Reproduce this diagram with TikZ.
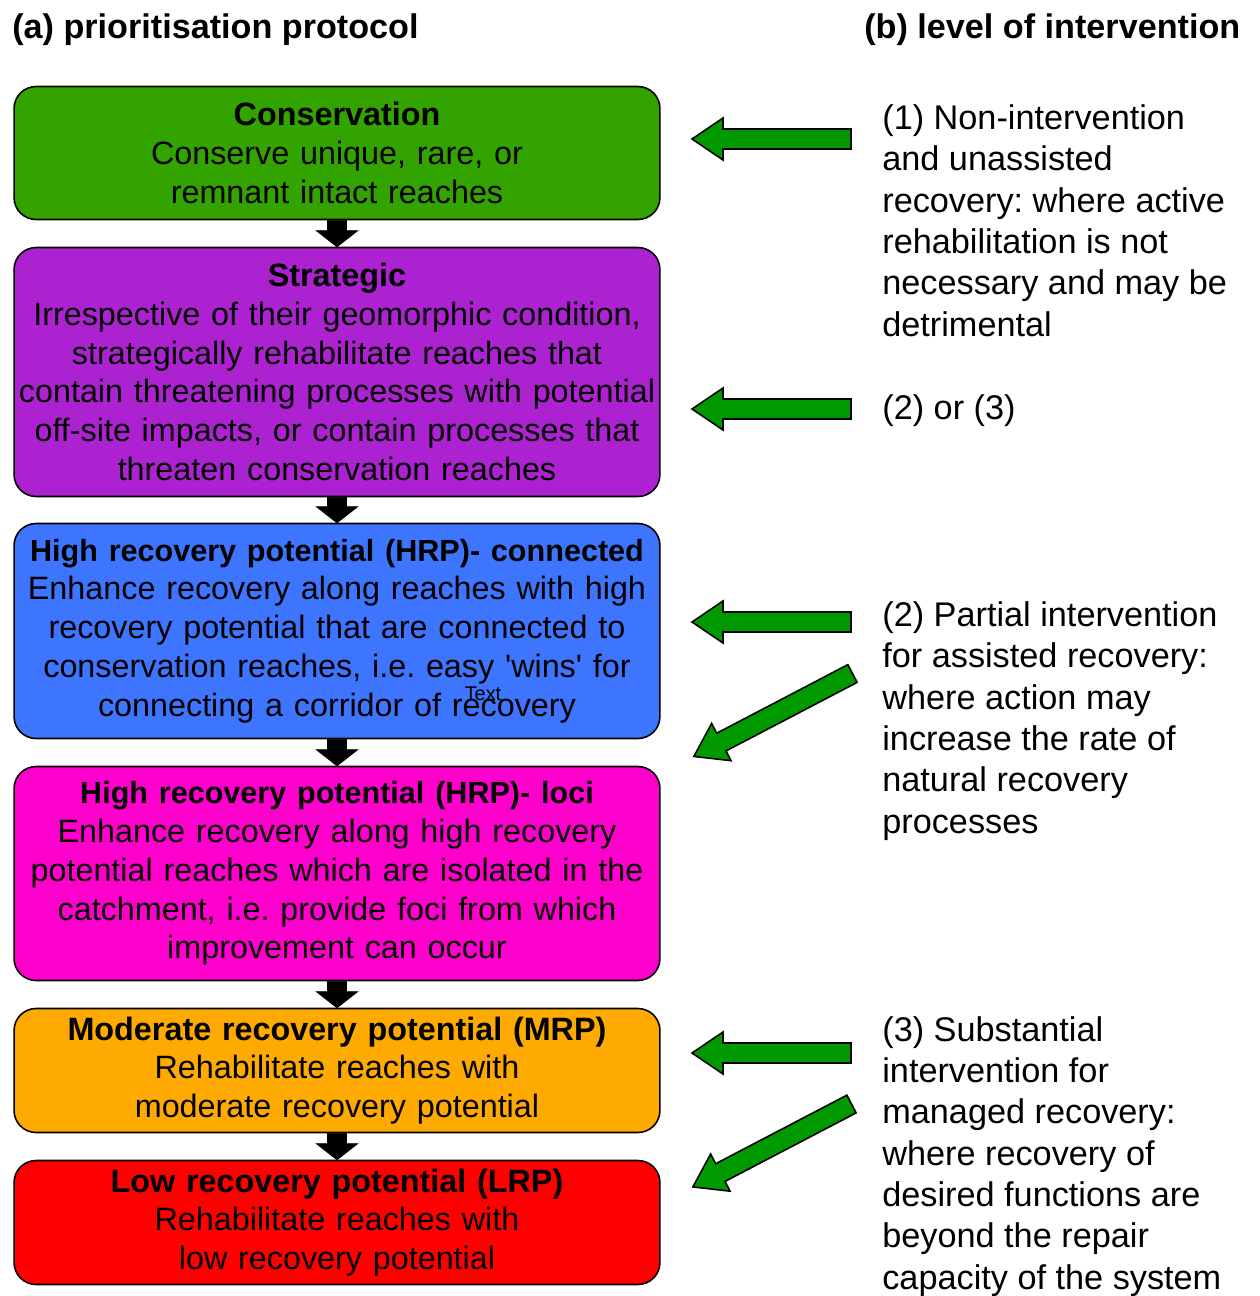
\documentclass[tikz,border=0pt]{standalone}
\usepackage{fontspec}
\setmainfont{Liberation Sans}
\usetikzlibrary{positioning,calc}
\frenchspacing

\definecolor{consgreen}{RGB}{51,163,0}
\definecolor{stratpurple}{RGB}{173,34,208}
\definecolor{hrpblue}{RGB}{61,117,255}
\definecolor{locimagenta}{RGB}{255,0,204}
\definecolor{mrporange}{RGB}{255,170,0}
\definecolor{lrpred}{RGB}{255,0,0}
\definecolor{arrowgreen}{RGB}{0,153,0}

\newcommand{\boxfont}{\fontsize{18.4pt}{22.1pt}\selectfont}
\newcommand{\levelfont}{\fontsize{19.5pt}{23.5pt}\selectfont}
\newcommand{\headfont}{\fontsize{19.45pt}{23pt}\selectfont\bfseries}
\newcommand{\hrptitle}{\fontsize{17.4pt}{22.1pt}\selectfont\bfseries}

% black arrow from one stage to the next
\newcommand{\flowarrow}[2]{%
  \filldraw[black, line width=0.5pt]
    ($(#1.south)+(-9.5,0)$) -- ($(#1.south)+(9.5,0)$)
    -- ($(#2.north)+(9.5,-16)$) -- ($(#2.north)+(20.5,-16)$)
    -- (#2.north)
    -- ($(#2.north)+(-20.5,-16)$) -- ($(#2.north)+(-9.5,-16)$) -- cycle;}

% green block arrow: tail, angle, length
\newcommand{\levelarrow}[3]{%
  \draw[levelarrow, shift={(#1)}, rotate=#2]
    (0,-10) -- (-#3+31,-10) -- (-#3+31,-21) -- (-#3,0)
    -- (-#3+31,21) -- (-#3+31,10) -- (0,10) -- cycle;}

\tikzset{
  stage/.style={draw=black, line width=0.9pt, rounded corners=0.44cm,
    minimum width=12.92cm, text width=12.9cm, align=center,
    inner sep=0pt, font=\boxfont},
  level/.style={anchor=base west, align=left, inner sep=0pt, font=\levelfont},
  levelarrow/.style={draw=black, line width=0.9pt, fill=arrowgreen},
}

\begin{document}
\begin{tikzpicture}[x=0.02cm, y=-0.02cm]

\useasboundingbox (0,0) rectangle (1260,1296);

\node[anchor=base west, inner sep=0pt, font=\headfont] (heada) at (12,38) {(a) prioritisation protocol};
\node[anchor=base west, inner sep=0pt, font=\headfont] (headb) at (864,38) {(b) level of intervention};

% stages
\node[stage, fill=consgreen, minimum height=2.66cm] (cons) at (337,153)
  {\textbf{Conservation}\\ Conserve unique, rare, or\\ remnant intact reaches};
\node[stage, fill=stratpurple, minimum height=4.98cm] (strat) at (337,372)
  {\textbf{Strategic}\\ Irrespective of their geomorphic condition,\\
   strategically rehabilitate reaches that\\
   contain threatening processes with potential\\
   off-site impacts, or contain processes that\\
   threaten conservation reaches};
\node[stage, fill=hrpblue, minimum height=4.3cm] (hrpc) at (337,631)
  {{\hrptitle High recovery potential (HRP)- connected}\\
   Enhance recovery along reaches with high\\
   recovery potential that are connected to\\
   conservation reaches, i.e. easy \textquotesingle wins\textquotesingle{} for\\
   connecting a corridor of recovery};
\node[stage, fill=locimagenta, minimum height=4.28cm] (hrpl) at (337,873.5)
  {{\hrptitle High recovery potential (HRP)- loci}\\
   Enhance recovery along high recovery\\
   potential reaches which are isolated in the\\
   catchment, i.e. provide foci from which\\
   improvement can occur};
\node[stage, fill=mrporange, minimum height=2.48cm] (mrp) at (337,1070.5)
  {\textbf{Moderate recovery potential (MRP)}\\ Rehabilitate reaches with\\ moderate recovery potential};
\node[stage, fill=lrpred, minimum height=2.48cm] (lrp) at (337,1222.5)
  {\textbf{Low recovery potential (LRP)}\\ Rehabilitate reaches with\\ low recovery potential};

\node[inner sep=0pt, font=\fontsize{11.3pt}{13pt}\selectfont] (stray) at (483,694) {Text};

\flowarrow{cons}{strat}
\flowarrow{strat}{hrpc}
\flowarrow{hrpc}{hrpl}
\flowarrow{hrpl}{mrp}
\flowarrow{mrp}{lrp}

% levels of intervention (base = last line)
\node[level] (lvl1) at (882,336)
  {(1) Non-intervention\\ and unassisted\\ recovery: where active\\
   rehabilitation is not\\ necessary and may be\\ detrimental};
\node[level] (lvl23) at (882,419) {(2) or (3)};
\node[level] (lvl2) at (882,833)
  {(2) Partial intervention\\ for assisted recovery:\\ where action may\\
   increase the rate of\\ natural recovery\\ processes};
\node[level] (lvl3) at (882,1289)
  {(3) Substantial\\ intervention for\\ managed recovery:\\ where recovery of\\
   desired functions are\\ beyond the repair\\ capacity of the system};

\coordinate (t1) at (851,139);
\coordinate (t2) at (851,409);
\coordinate (t3) at (851,622);
\coordinate (t4) at (852.5,673.5);
\coordinate (t5) at (851,1053);
\coordinate (t6) at (851.5,1104);

\levelarrow{t1}{0}{159}
\levelarrow{t2}{0}{159}
\levelarrow{t3}{0}{159}
\levelarrow{t4}{27.6}{179}
\levelarrow{t5}{0}{159}
\levelarrow{t6}{27.6}{179}

\end{tikzpicture}
\end{document}
